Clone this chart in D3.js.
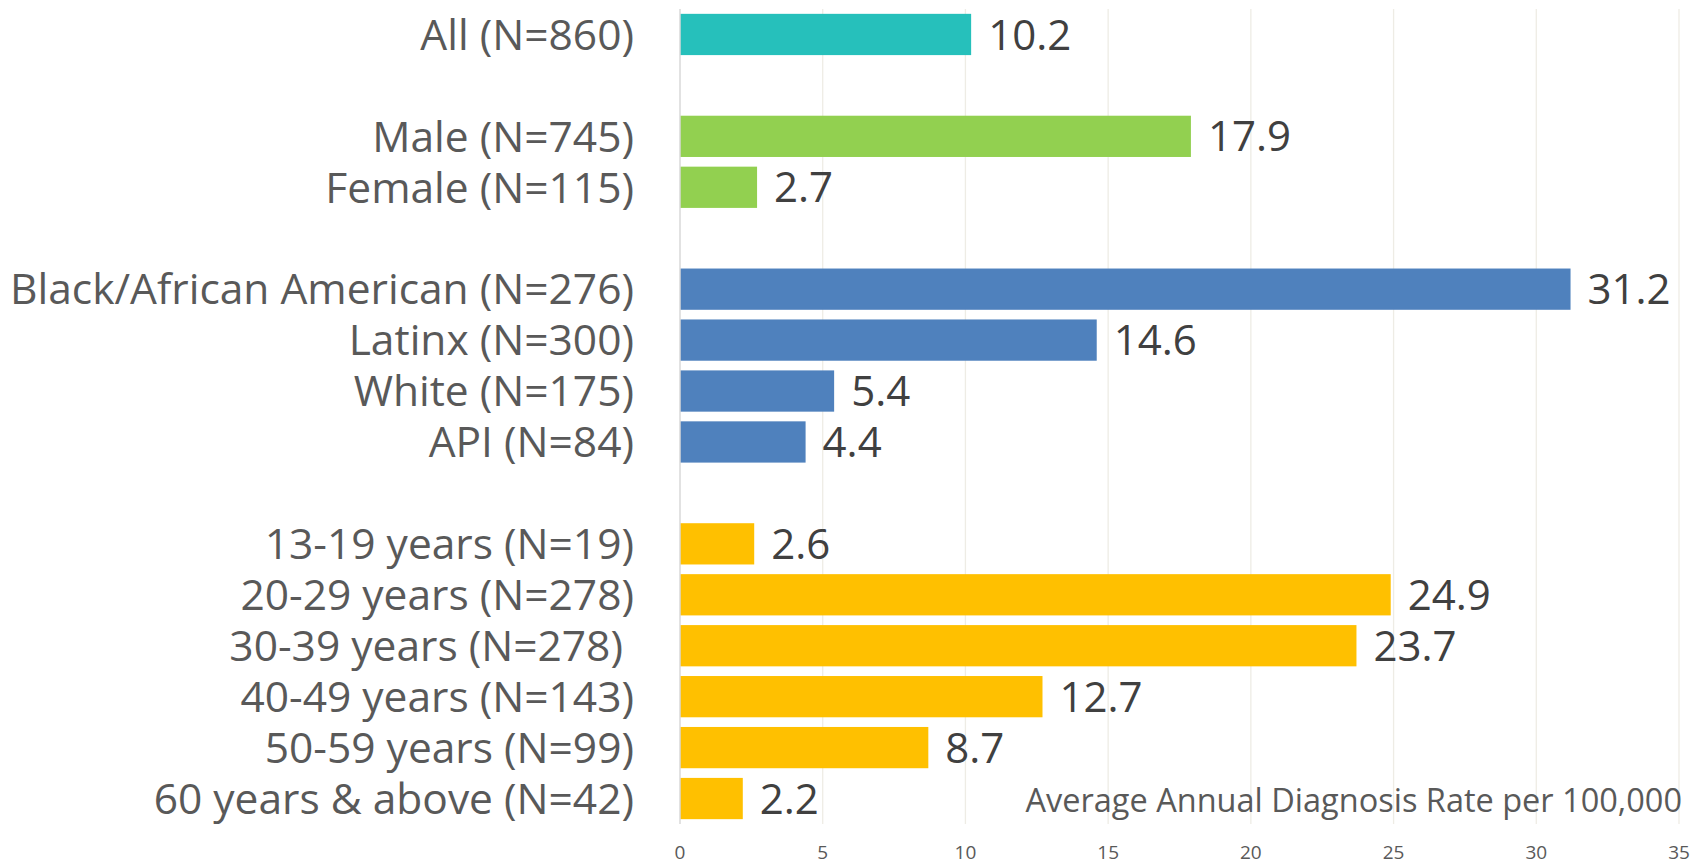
<!DOCTYPE html>
<html>
<head>
<meta charset="utf-8">
<script src="https://cdn.jsdelivr.net/npm/d3@7"></script>
<style>
  body { margin: 0; background: #fff; }
  svg { display: block; font-family: "Open Sans", sans-serif; }
</style>
</head>
<body>
<div id="chart"></div>
<script>
// rows top to bottom, blank rows separate the groups
const categories = ["All (N=860)", "gap1", "Male (N=745)", "Female (N=115)", "gap2",
  "Black/African American (N=276)", "Latinx (N=300)", "White (N=175)", "API (N=84)", "gap3",
  "13-19 years (N=19)", "20-29 years (N=278)", "30-39 years (N=278) ", "40-49 years (N=143)",
  "50-59 years (N=99)", "60 years & above (N=42)"];
const values = [10.2, null, 17.9, 2.7, null, 31.2, 14.6, 5.4, 4.4, null, 2.6, 24.9, 23.7, 12.7, 8.7, 2.2];
const groups = ["all", null, "sex", "sex", null, "race", "race", "race", "race", null,
  "age", "age", "age", "age", "age", "age"];
const xTicks = [0, 5, 10, 15, 20, 25, 30, 35];
const axisTitle = "Average Annual Diagnosis Rate per 100,000";

const colors = { all: "#26C0BB", sex: "#92D050", race: "#4F81BD", age: "#FFC000" };

const width = 1699, height = 865;
const margin = {top: 9, right: 20, bottom: 41, left: 680};

const svg = d3.select("#chart").append("svg")
    .attr("width", width)
    .attr("height", height);

const xScale = d3.scaleLinear()
    .domain([0, 35])
    .range([margin.left, 1679]);

const yScale = d3.scaleBand()
    .domain(categories)
    .range([margin.top, height - margin.bottom])
    .paddingInner(0.19)
    .paddingOuter(0.095);

// gridlines
svg.append("g")
    .selectAll("line")
    .data(xTicks.slice(1))
    .enter()
    .append("line")
    .attr("x1", d => xScale(d))
    .attr("x2", d => xScale(d))
    .attr("y1", margin.top)
    .attr("y2", height - margin.bottom)
    .attr("stroke", "#EEECE5")
    .attr("stroke-width", 1.3);

const rows = categories.map((c, i) => ({cat: c, value: values[i], group: groups[i]}))
    .filter(d => d.value !== null);

// bars
svg.append("g")
    .selectAll("rect")
    .data(rows)
    .enter()
    .append("rect")
    .attr("x", xScale(0))
    .attr("y", d => yScale(d.cat))
    .attr("width", d => xScale(d.value) - xScale(0))
    .attr("height", yScale.bandwidth())
    .attr("fill", d => colors[d.group]);

// zero axis line
svg.append("line")
    .attr("x1", xScale(0))
    .attr("x2", xScale(0))
    .attr("y1", margin.top)
    .attr("y2", height - margin.bottom)
    .attr("stroke", "#D9D9D9")
    .attr("stroke-width", 1.5);

// category labels
svg.append("g")
    .selectAll("text")
    .data(rows)
    .enter()
    .append("text")
    .attr("x", 634)
    .attr("y", d => yScale(d.cat) + yScale.bandwidth() / 2)
    .attr("dy", "0.36em")
    .attr("text-anchor", "end")
    .attr("fill", "#595959")
    .style("font-size", "42.5px")
    .style("white-space", "pre")
    .text(d => d.cat);

// value labels
svg.append("g")
    .selectAll("text")
    .data(rows)
    .enter()
    .append("text")
    .attr("x", d => xScale(d.value) + 17)
    .attr("y", d => yScale(d.cat) + yScale.bandwidth() / 2)
    .attr("dy", "0.36em")
    .attr("fill", "#404040")
    .style("font-size", "42px")
    .text(d => d3.format(".1f")(d.value));

// x axis ticks
svg.append("g")
    .selectAll("text")
    .data(xTicks)
    .enter()
    .append("text")
    .attr("x", d => xScale(d))
    .attr("y", 852)
    .attr("dy", "0.36em")
    .attr("text-anchor", "middle")
    .attr("fill", "#595959")
    .style("font-size", "19px")
    .text(d => d);

// axis title
svg.append("text")
    .attr("x", 1682)
    .attr("y", 800)
    .attr("dy", "0.36em")
    .attr("text-anchor", "end")
    .attr("fill", "#595959")
    .style("font-size", "32.5px")
    .text(axisTitle);
</script>
</body>
</html>
